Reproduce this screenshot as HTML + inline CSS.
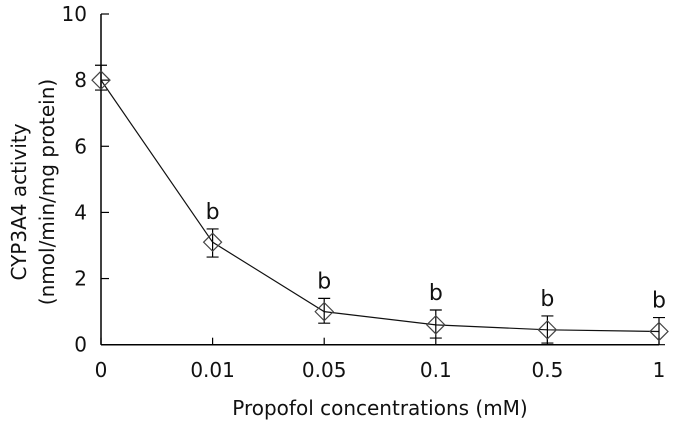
<!DOCTYPE html>
<html><head><meta charset="utf-8"><style>
body{margin:0;background:#fff}
svg text{font-family:"DejaVu Sans","Liberation Sans",sans-serif;fill:#111}
</style></head><body>
<svg width="682" height="430" viewBox="0 0 682 430">
<g id="g"></g>
</svg>
<script>
const categories=["0","0.01","0.05","0.1","0.5","1"];
const values=[8.0,3.1,1.0,0.6,0.45,0.4];
const errUp=[0.45,0.4,0.4,0.45,0.42,0.42];
const errDown=[0.3,0.45,0.35,0.4,0.4,0.4];
const sigLabels=["","b","b","b","b","b"];
const yTicks=[0,2,4,6,8,10];
const x0=101,dx=111.6,yB=344.7,yT=14;
const xs=i=>x0+i*dx;
const ys=v=>yB-(v/10)*(yB-yT);
const NS="http://www.w3.org/2000/svg";
const g=document.getElementById('g');
function mk(t,a,txt){const e=document.createElementNS(NS,t);for(const k in a)e.setAttribute(k,a[k]);if(txt!==undefined)e.textContent=txt;g.appendChild(e);return e;}
let e;
e=mk('line',{x1:x0,y1:yT,x2:x0,y2:yB,stroke:'#000','stroke-width':1.5});


e=mk('line',{x1:x0,y1:yB,x2:xs(5),y2:yB,stroke:'#000','stroke-width':1.5});


yTicks.forEach(t=>{
 e=mk('line',{x1:x0,y1:ys(t),x2:x0+8,y2:ys(t),stroke:'#000','stroke-width':1.2});
 
 
 e=mk('text',{x:x0-14,y:ys(t)+7,'text-anchor':'end','font-size':20},String(t));
 
 
});
categories.forEach((c,i)=>{
 e=mk('line',{x1:xs(i),y1:yB,x2:xs(i),y2:yB-7,stroke:'#000','stroke-width':1.2});
 
 
 e=mk('text',{x:xs(i),y:377,'text-anchor':'middle','font-size':20},c);
 
 
});
e=mk('polyline',{points:values.map((v,i)=>xs(i)+','+ys(v)).join(' '),fill:'none',stroke:'#111','stroke-width':1.2});


values.forEach((v,i)=>{
 const x=xs(i),y=ys(v),yu=ys(v+errUp[i]),yd=ys(v-errDown[i]);
 e=mk('path',{d:`M${x},${yu}V${yd}M${x-6},${yu}H${x+6}M${x-6},${yd}H${x+6}`,stroke:'#000','stroke-width':1.2,fill:'none'});
 
 
 e=mk('path',{d:`M${x-9},${y}L${x},${y-9}L${x+9},${y}L${x},${y+9}Z`,stroke:'#444','stroke-width':1.2,fill:'none'});
 
 
 if(sigLabels[i]){
  e=mk('text',{x:x,y:yu-10,'text-anchor':'middle','font-size':22},sigLabels[i]);
  
  
 }
});
e=mk('text',{x:380,y:415,'text-anchor':'middle','font-size':20},'Propofol concentrations (mM)');


e=mk('text',{x:0,y:0,'text-anchor':'middle','font-size':20,transform:'translate(26,202) rotate(-90)'},'CYP3A4 activity');


e=mk('text',{x:0,y:0,'text-anchor':'middle','font-size':20,transform:'translate(54,192) rotate(-90)'},'(nmol/min/mg protein)');


</script>
</body></html>
